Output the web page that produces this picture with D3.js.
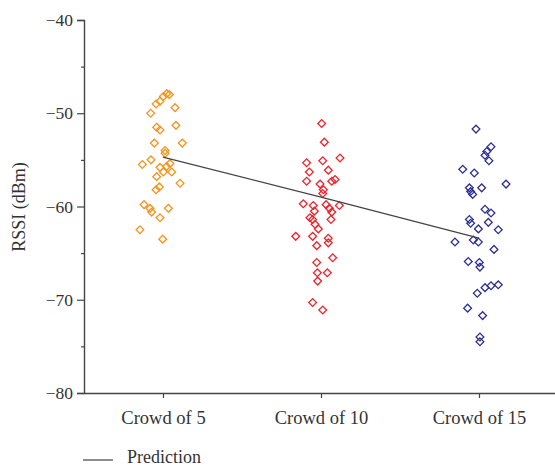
<!DOCTYPE html>
<html>
<head>
<meta charset="utf-8">
<script src="https://cdn.jsdelivr.net/npm/d3@7"></script>
<style>
  html, body { margin: 0; padding: 0; background: #fff; }
  svg { display: block; }
  text { font-family: "Liberation Serif", "DejaVu Serif", serif; fill: #333; }
</style>
</head>
<body>
<svg id="chart" width="555" height="468"></svg>
<script>
// ---- data ----
const categories = ["Crowd of 5", "Crowd of 10", "Crowd of 15"];
const yTicks = [-40, -50, -60, -70, -80];
const yMinorTicks = [-45, -55, -65, -75];
const seriesColors = ["#f7931e", "#f0232b", "#2e3192"];

const crowd5Values = [-47.9, -48.0, -48.2, -48.7, -49.0, -49.4, -50.0, -51.5, -51.8, -51.3,
  -53.2, -53.2, -54.0, -54.3, -55.0, -55.5, -55.8, -55.7, -55.4, -56.3, -56.3, -56.8,
  -57.9, -58.2, -57.5, -59.8, -60.2, -60.6, -60.2, -61.2, -62.5, -63.5];
const crowd5Jitter = [0.023, 0.040, 0.002, -0.019, -0.044, 0.076, -0.078, -0.040, -0.019, 0.082,
  -0.055, 0.122, 0.013, 0.013, -0.076, -0.131, -0.019, 0.023, 0.044, 0.002, 0.055, -0.040,
  -0.023, -0.044, 0.108, -0.120, -0.082, -0.072, 0.034, -0.019, -0.146, -0.002];

const crowd10Values = [-51.1, -53.1, -55.3, -55.1, -54.8, -56.3, -56.1, -57.3, -57.1, -57.3,
  -57.6, -58.2, -58.6, -59.7, -59.9, -59.8, -60.2, -59.9, -60.6, -60.5, -61.2, -61.4, -61.4,
  -61.9, -62.4, -63.2, -63.2, -63.4, -63.9, -64.2, -65.5, -66.0, -67.1, -67.1, -68.0, -70.3, -71.1];
const crowd10Jitter = [0.004, 0.021, -0.091, 0.011, 0.120, -0.074, 0.046, -0.091, 0.089, 0.068,
  -0.006, 0.015, 0.011, -0.112, -0.049, 0.032, 0.053, 0.116, 0.068, -0.042, -0.070, -0.053, 0.063,
  -0.038, -0.017, -0.053, -0.160, 0.046, 0.046, -0.027, 0.074, -0.027, 0.040, -0.023, -0.021, -0.053, 0.011];

const crowd15Values = [-51.7, -53.6, -54.1, -54.5, -55.1, -56.0, -56.4, -57.6, -58.0, -58.0,
  -58.4, -58.7, -60.3, -60.7, -61.4, -61.7, -61.8, -62.4, -62.5, -63.8, -63.6, -63.8, -64.6,
  -65.9, -66.0, -66.5, -69.3, -68.7, -68.5, -68.4, -70.9, -71.7, -74.0, -74.5];
const crowd15Jitter = [-0.019, 0.076, 0.049, 0.038, 0.063, -0.103, -0.030, 0.171, 0.017, -0.061,
  -0.053, -0.040, 0.038, 0.076, -0.061, 0.059, -0.053, -0.004, 0.122, -0.152, -0.036, -0.004, 0.095,
  -0.068, 0.002, 0.006, -0.011, 0.038, 0.076, 0.122, -0.072, 0.023, 0.006, 0.006];

const predictionValues = [-54.7, -59.0, -63.4];
const legendLabel = "Prediction";
const yLabel = "RSSI (dBm)";

// ---- chart ----
const svg = d3.select("#chart");
const x = d3.scalePoint().domain(categories).range([84, 558]).padding(0.5);
const step = x.step();
const y = d3.scaleLinear().domain([-80, -40]).range([393, 20]);

const axisColor = "#444";

// y axis
const yAxis = svg.append("g").attr("transform", "translate(84,0)")
  .call(d3.axisLeft(y).tickValues(yTicks).tickSize(7).tickPadding(4)
    .tickFormat(d => "\u2212" + Math.abs(d)));
yAxis.select(".domain").attr("stroke", axisColor).attr("stroke-width", 1.4);
yAxis.selectAll(".tick line").attr("stroke", axisColor).attr("stroke-width", 1.2);
yAxis.selectAll(".tick text").style("font-size", "17.5px")
  .style("font-family", "'Liberation Serif', serif").attr("fill", "#333");

const yMinor = svg.append("g").attr("transform", "translate(84,0)")
  .call(d3.axisLeft(y).tickValues(yMinorTicks).tickSize(3).tickFormat(""));
yMinor.select(".domain").remove();
yMinor.selectAll(".tick line").attr("stroke", axisColor).attr("stroke-width", 1.2);

// x axis
const xAxis = svg.append("g").attr("transform", "translate(0,393)")
  .call(d3.axisBottom(x).tickSize(5).tickSizeOuter(0).tickPadding(13));
xAxis.select(".domain").attr("stroke", axisColor).attr("stroke-width", 1.4);
xAxis.selectAll(".tick line").attr("stroke", axisColor).attr("stroke-width", 1.2);
xAxis.selectAll(".tick text").style("font-size", "18.5px")
  .style("font-family", "'Liberation Serif', serif").attr("fill", "#333");

// y label
svg.append("text")
  .attr("transform", `translate(25,207) rotate(-90)`)
  .attr("text-anchor", "middle")
  .style("font-size", "18px")
  .text(yLabel);

// points
const groups = [
  { cat: categories[0], values: crowd5Values, jitter: crowd5Jitter, color: seriesColors[0] },
  { cat: categories[1], values: crowd10Values, jitter: crowd10Jitter, color: seriesColors[1] },
  { cat: categories[2], values: crowd15Values, jitter: crowd15Jitter, color: seriesColors[2] }
];
const diamond = d3.symbol().type(d3.symbolSquare).size(30)();
groups.forEach(g => {
  svg.append("g").selectAll("path")
    .data(g.values.map((v, i) => ({ v, j: g.jitter[i] })))
    .join("path")
    .attr("d", diamond)
    .attr("transform", d => `translate(${x(g.cat) + d.j * step},${y(d.v)}) rotate(45)`)
    .attr("fill", "none")
    .attr("stroke", g.color)
    .attr("stroke-width", 1.3);
});

// prediction line
svg.append("path")
  .datum(predictionValues.map((v, i) => [x(categories[i]), y(v)]))
  .attr("d", d3.line())
  .attr("fill", "none")
  .attr("stroke", "#444")
  .attr("stroke-width", 1.2);

// legend
svg.append("line").attr("x1", 83).attr("x2", 113).attr("y1", 460).attr("y2", 460)
  .attr("stroke", "#444").attr("stroke-width", 1.2);
svg.append("text").attr("x", 127).attr("y", 463).style("font-size", "18px").text(legendLabel);
</script>
</body>
</html>
